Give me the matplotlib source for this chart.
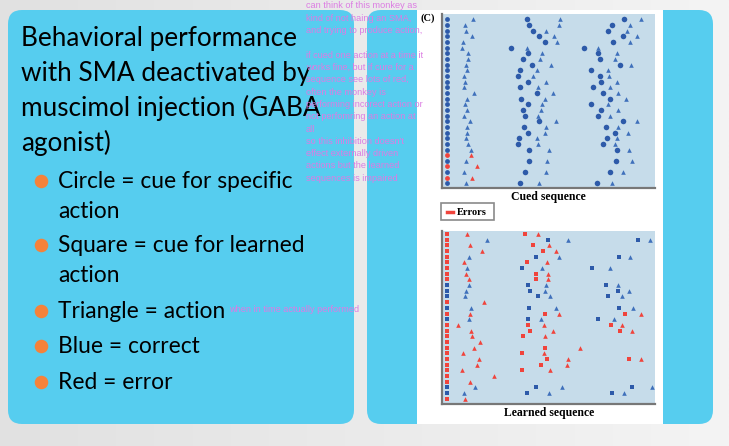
import matplotlib.pyplot as plt
import numpy as np
from matplotlib.patches import FancyBboxPatch, Rectangle
from matplotlib.colors import LinearSegmentedColormap

# ---- data (time positions, arbitrary units) ----
rows = list(range(30))

# cued sequence: first cue always at ~50, then action / cue / action / cue / action
cued_cue1 = 50
cued_t1 = [130, 105, 109, 125, 100, 95, 115, 115, 107, 110, 103, 106, 102, 131, 112,
           106, 112, 101, 120, 112, 112, 109, 113, 124, 122, 109, 141, 103, 127, 108]
cued_c2 = [290, 298, 310, 326, 345, 244, 293, 279, 306, 271, 263, 294, 271, 320, 272,
           294, 278, 285, 328, 281, 294, 268, 264, 296, None, 297, None, 286, None, 271]
cued_t2 = [390, 388, 348, 372, 380, 290, 336, 330, 363, 321, 310, 348, 323, 369, 346,
           336, 332, 324, 378, 348, 344, 320, 323, 357, None, 351, None, 348, None, 327]
cued_c3 = [583, 547, 533, 580, 550, 462, 505, 510, 570, 483, 510, 513, 490, 520, 540,
           484, 513, 505, 578, 528, 555, 530, 518, 561, None, 559, None, 541, None, 501]
cued_t3 = [632, 600, 590, 620, 601, 505, 560, 555, 602, 533, 537, 560, 540, 565, 588,
           534, 564, 540, 622, 563, 594, 562, 556, 598, None, 607, None, 578, None, 546]
cued_err = [0] * 24 + [1, 0, 1, 0, 1, 0]

# learned sequence
learn_cue1 = 51
learn_t1 = [110, 172, 120, 155, 118, 103, 110, 107, 117, 117, 109, 104, 162, 123, 121,
            118, 85, 123, 127, 151, 131, 99, 148, 141, 95, 193, 120, 136, 103, 106]
learn_c2 = [285, 354, 308, 339, 318, 290, 275, 318, 317, 293, 301, 323, None, 296, 346,
            295, 295, 300, 280, None, 344, 275, 352, 334, 275, None, None, 319, 291, None]
learn_t2 = [323, 415, 356, 379, 386, 351, 336, 355, 354, 348, 346, 360, None, 377, 386,
            332, 343, 369, 344, None, 451, 343, 413, 410, 361, None, None, 397, 357, None]
learn_c3 = [None, 625, None, None, 566, None, 486, None, None, 529, 563, 533, None, 568, 585,
            505, 542, 570, None, None, None, None, 597, None, None, None, None, 606, 545, None]
learn_t3 = [None, 660, None, None, 601, None, 539, None, None, 563, 597, 575, None, 608, 633,
            551, 577, 606, None, None, None, None, 632, None, None, None, None, 667, 583, None]
learn_cue1_err = [1, 1, 1, 1, 1, 1, 1, 1, 1, 0, 0, 0, 1, 0, 1,
                  0, 1, 1, 1, 1, 1, 1, 1, 1, 1, 1, 1, 0, 0, 1]
learn_rest_err = [1, 0, 1, 1, 0, 1, 0, 1, 1, 0, 0, 0, 1, 0, 1,
                  0, 1, 1, 1, 1, 1, 1, 1, 1, 1, 1, 1, 0, 0, 1]

title_lines = ["Behavioral performance", "with SMA deactivated by",
               "muscimol injection (GABA", "agonist)"]
bullets = [("Circle = cue for specific", "action"), ("Square = cue for learned", "action"),
           ("Triangle = action", None), ("Blue = correct", None), ("Red = error", None)]
notes = ["can think of this monkey as", "kind of not haing an SMA,", "and trying to produce action,",
         "", "if cued one action at a time it", "works fine, but if cure for a",
         "sequence see lots of red,", "often the monkey is", "performing incorect action or",
         "not perfomring an action at", "all", "so this inhibition doesn't",
         "effect externally driven", "actions but the learned", "sequences is impaired"]

W, H = 729, 446
CYAN = '#56cdef'
BLUE = '#2d5aa9'
BLUE_T = '#3f70bb'
RED = '#f0443c'
PINK = '#dc7ce3'
PLOT_BG = '#c6dcea'

fig = plt.figure(figsize=(W / 100, H / 100), dpi=100)


def fx(x):
    return x / W


def fy(y):
    return 1 - y / H


# slide background and panels
bg = fig.add_axes([0, 0, 1, 1])
bg.set_xlim(0, W)
bg.set_ylim(H, 0)
bg.axis('off')
grad = np.linspace(0, 1, 256).reshape(1, -1)
bg.imshow(grad, extent=[0, W, H, 0], aspect='auto', zorder=0,
          cmap=LinearSegmentedColormap.from_list('slide', ['#e1e1e1', '#f4f4f4']))
r = 14
for x0, x1 in [(8, 354), (367, 713)]:
    bg.add_patch(FancyBboxPatch((x0 + r, 10 + r), x1 - x0 - 2 * r, 414 - 2 * r,
                                boxstyle=f"round,pad={r}", fc=CYAN, ec='none', zorder=1))
bg.add_patch(Rectangle((417, 10), 246, 414, fc='white', ec='none', zorder=2))

# Errors legend box
bg.add_patch(Rectangle((441, 203), 53, 17, fc='white', ec='#8a8a8a', lw=1.2, zorder=3))
bg.plot([447, 453], [212, 212], color=RED, lw=2.5, zorder=4)

# title and bullets
for i, line in enumerate(title_lines):
    fig.text(fx(21), fy(46 + 35 * i), line, fontsize=18.8, family='Lato',
             va='baseline', ha='left', color='black')
ys = [188, 252, 318, 353, 389]
for (main, cont), yb in zip(bullets, ys):
    bg.scatter([41], [yb - 7], s=95, color='#f5823a', zorder=5, linewidths=0)
    fig.text(fx(58), fy(yb), main, fontsize=16.4, family='Lato', va='baseline')
    if cont:
        fig.text(fx(58), fy(yb + 30), cont, fontsize=16.4, family='Lato', va='baseline')


def raster(ax, cue1, c_err, r_err, t1, c2, t2, c3, t3, cue_marker, cue_s):
    for i in rows:
        col1 = RED if c_err[i] else BLUE
        colr = RED if r_err[i] else BLUE
        colt = RED if r_err[i] else BLUE_T
        ax.scatter(cue1, i, marker=cue_marker, s=cue_s * 0.75, color=col1, linewidths=0)
        for c in (c2[i], c3[i]):
            if c is not None:
                ax.scatter(c, i, marker=cue_marker, s=cue_s, color=colr, linewidths=0)
        for t in (t1[i], t2[i], t3[i]):
            if t is not None:
                ax.scatter(t, i, marker='^', s=11, color=colt, linewidths=0)


def style(ax):
    ax.set_facecolor(PLOT_BG)
    ax.set_xlim(36, 675)
    ax.set_xticks([])
    ax.set_yticks([])
    for s in ['top', 'right']:
        ax.spines[s].set_visible(False)
    for s in ['left', 'bottom']:
        ax.spines[s].set_color('#777777')
        ax.spines[s].set_linewidth(1.6)


ax1 = fig.add_axes([fx(442), fy(188), (655 - 442) / W, (188 - 14) / H])
style(ax1)
ax1.set_ylim(29.8, -0.95)
raster(ax1, cued_cue1, cued_err, cued_err, cued_t1, cued_c2, cued_t2, cued_c3, cued_t3, 'o', 16)

ax2 = fig.add_axes([fx(442), fy(404), (655 - 442) / W, (404 - 231) / H])
style(ax2)
ax2.set_ylim(29.9, -0.5)
raster(ax2, learn_cue1, learn_cue1_err, learn_rest_err, learn_t1, learn_c2, learn_t2,
       learn_c3, learn_t3, 's', 12)

# figure labels
fig.text(fx(420), fy(18), "(C)", fontsize=7.5, family='Liberation Serif', weight='bold',
         va='center', ha='left')
fig.text(fx(548), fy(197), "Cued sequence", fontsize=8.5, family='Liberation Serif',
         weight='bold', va='center', ha='center')
fig.text(fx(549), fy(413), "Learned sequence", fontsize=8.5, family='Liberation Serif',
         weight='bold', va='center', ha='center')
fig.text(fx(457), fy(212), "Errors", fontsize=7.5, family='Liberation Serif',
         weight='bold', va='center', ha='left')

# speaker notes overlaid in pink
for i, line in enumerate(notes):
    if line:
        fig.text(fx(306), fy(6 + 12.3 * i), line, fontsize=6.6, family='Liberation Sans',
                 color=PINK, va='center', ha='left', zorder=10)
fig.text(fx(229), fy(310), "when in time actually performed", fontsize=6.6,
         family='Liberation Sans', color=PINK, va='center', ha='left', zorder=10)

fig.savefig('out.png', dpi=100)
